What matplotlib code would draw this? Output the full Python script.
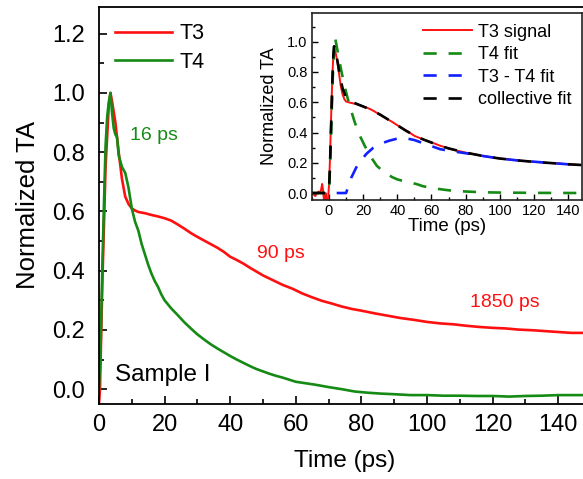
import matplotlib
matplotlib.use("Agg")
import matplotlib.pyplot as plt
from matplotlib.ticker import MultipleLocator, FormatStrFormatter

plt.rcParams['font.family'] = ['Liberation Sans', 'DejaVu Sans']

# ---- main panel: normalized transient absorption, sample I ----
t3_time = [0, 0.3, 1, 2, 3, 3.5, 4, 5, 6, 7, 8, 9, 10, 11, 12, 13, 14, 16, 18,
           20, 22, 24, 26, 28, 30, 32, 34, 36, 38, 40, 42, 44, 46, 48, 50, 53,
           56, 59, 62, 65, 68, 71, 74, 77, 80, 84, 88, 92, 96, 100, 104, 108,
           112, 116, 120, 124, 128, 132, 136, 140, 144, 148]
t3_signal = [-0.05, 0.0, 0.35, 0.75, 0.96, 1.0, 0.97, 0.9, 0.8, 0.71, 0.65,
             0.625, 0.61, 0.603, 0.598, 0.596, 0.594, 0.588, 0.583, 0.577,
             0.569, 0.556, 0.542, 0.527, 0.514, 0.502, 0.49, 0.478, 0.464,
             0.447, 0.436, 0.424, 0.41, 0.397, 0.384, 0.368, 0.352, 0.339,
             0.323, 0.31, 0.298, 0.289, 0.279, 0.271, 0.265, 0.256, 0.248,
             0.24, 0.234, 0.227, 0.222, 0.219, 0.214, 0.21, 0.207, 0.205,
             0.201, 0.199, 0.196, 0.193, 0.19, 0.19]

t4_time = [0, 0.5, 1, 1.5, 2, 2.5, 3, 3.5, 4, 4.5, 5, 5.5, 6, 7, 8, 9, 10, 11,
           12, 13, 14, 15, 16, 17, 18, 19, 20, 22, 24, 26, 28, 30, 32, 34, 36,
           38, 40, 42, 44, 46, 48, 50, 52, 54, 56, 58, 60, 63, 66, 70, 74, 78,
           82, 86, 90, 95, 100, 105, 110, 115, 120, 125, 130, 135, 140, 145, 148]
t4_signal = [0.0, 0.15, 0.4, 0.62, 0.82, 0.92, 0.97, 1.0, 0.93, 0.88, 0.86,
             0.85, 0.79, 0.75, 0.73, 0.68, 0.61, 0.565, 0.535, 0.49, 0.455,
             0.42, 0.39, 0.365, 0.345, 0.32, 0.3, 0.273, 0.25, 0.226, 0.205,
             0.185, 0.168, 0.152, 0.138, 0.125, 0.112, 0.1, 0.089, 0.078,
             0.068, 0.06, 0.052, 0.045, 0.039, 0.032, 0.025, 0.02, 0.015,
             0.007, 0.0, -0.008, -0.012, -0.015, -0.017, -0.02, -0.02, -0.022,
             -0.022, -0.023, -0.023, -0.025, -0.023, -0.022, -0.02, -0.02, -0.02]

# ---- inset: T3 signal and the fit components ----
sig_time = [-10, -9, -8, -7, -6, -5, -4.5, -4, -3.5, -3, -2.5, -2, -1.5, -1,
            -0.5, 0, 0.5, 1, 1.5, 2, 2.5, 3, 3.5, 4, 5, 6, 7, 8, 9, 10, 12, 14,
            16, 18, 20, 22, 25, 28, 31, 34, 37, 40, 43, 46, 50, 55, 60, 65, 70,
            75, 80, 85, 90, 95, 100, 105, 110, 115, 120, 125, 130, 135, 140,
            145, 148]
sig_value = [0.0, -0.01, -0.02, 0.0, 0.01, 0.0, 0.03, 0.06, 0.02, -0.04,
             -0.06, 0.0, -0.06, -0.05, -0.03, 0.05, 0.2, 0.4, 0.6, 0.78, 0.9,
             0.96, 0.94, 0.92, 0.86, 0.78, 0.7, 0.65, 0.62, 0.605, 0.598,
             0.593, 0.588, 0.58, 0.572, 0.565, 0.55, 0.53, 0.51, 0.49, 0.47,
             0.448, 0.428, 0.408, 0.378, 0.355, 0.335, 0.313, 0.295, 0.28,
             0.267, 0.256, 0.245, 0.236, 0.228, 0.222, 0.216, 0.211, 0.206,
             0.202, 0.198, 0.195, 0.19, 0.187, 0.185]

t4fit_time = [-10, 0, 1, 2, 3, 3.5, 5, 7, 9, 12, 15, 18, 21, 25, 28, 32, 37,
              40, 45, 51, 55, 60, 70, 80, 90, 100, 120, 148]
t4fit_value = [0.0, 0.0, 0.3, 0.7, 0.98, 1.03, 0.94, 0.82, 0.71, 0.58, 0.47,
               0.38, 0.31, 0.23, 0.18, 0.14, 0.105, 0.09, 0.075, 0.06, 0.045,
               0.033, 0.018, 0.01, 0.005, 0.003, 0.001, 0.0]

diff_time = [4.5, 10, 13, 16, 19, 22, 26, 30, 35, 40, 45, 50, 55, 60, 65, 70,
             80, 90, 100, 110, 120, 130, 140, 148]
diff_value = [0.0, 0.0, 0.1, 0.17, 0.22, 0.26, 0.3, 0.325, 0.345, 0.36, 0.362,
              0.35, 0.33, 0.31, 0.29, 0.28, 0.263, 0.245, 0.228, 0.216, 0.207,
              0.198, 0.19, 0.185]

fit_time = [-10, -1, 0, 0.5, 1, 1.5, 2, 2.5, 3, 4, 5, 6, 7, 8, 10, 12, 14,
            16, 20, 25, 30, 35, 40, 45, 50, 55, 60, 65, 70, 80, 90, 100, 110,
            120, 130, 140, 148]
fit_value = [0.0, 0.0, 0.02, 0.15, 0.35, 0.55, 0.75, 0.9, 0.97, 0.93, 0.87,
             0.8, 0.74, 0.69, 0.63, 0.61, 0.6, 0.59, 0.572, 0.548, 0.518,
             0.483, 0.448, 0.412, 0.38, 0.355, 0.333, 0.313, 0.295, 0.267,
             0.245, 0.228, 0.216, 0.206, 0.198, 0.19, 0.185]

RED = '#ff1010'
GREEN = '#158a15'
BLUE = '#1020ff'
DASH = (0, (5, 4.5))

fig = plt.figure(figsize=(5.83, 4.79), dpi=100)
ax = fig.add_axes([0.1698, 0.1566, 1.0137 - 0.1698, 0.9854 - 0.1566])
ax.plot(t3_time, t3_signal, color=RED, lw=1.9, label='T3')
ax.plot(t4_time, t4_signal, color=GREEN, lw=1.9, label='T4')
ax.set_xlim(0, 150)
ax.set_ylim(-0.05, 1.29)
ax.xaxis.set_major_locator(MultipleLocator(20))
ax.xaxis.set_minor_locator(MultipleLocator(10))
ax.yaxis.set_major_locator(MultipleLocator(0.2))
ax.yaxis.set_minor_locator(MultipleLocator(0.1))
ax.yaxis.set_major_formatter(FormatStrFormatter('%.1f'))
ax.tick_params(which='both', direction='in', top=False, right=False, width=1.2)
ax.tick_params(which='major', length=6, labelsize=17)
ax.tick_params(axis='y', which='major', pad=10)
ax.tick_params(axis='x', which='major', pad=7)
ax.tick_params(which='minor', length=3.5)
for s in ax.spines.values():
    s.set_linewidth(1.3)
ax.set_xlabel('Time (ps)', fontsize=17.5, labelpad=10)
ax.set_ylabel('Normalized TA', fontsize=18.5, labelpad=9)

ax.legend(loc='upper left', bbox_to_anchor=(0.0, 1.0), frameon=False,
          fontsize=15.5, handlelength=2.65, handletextpad=0.35,
          labelspacing=0.35, borderaxespad=0.35)

ax.text(9.5, 0.855, '16 ps', color=GREEN, fontsize=14, va='center')
ax.text(48.2, 0.458, '90 ps', color=RED, fontsize=14, va='center')
ax.text(113, 0.294, '1850 ps', color=RED, fontsize=14, va='center')
ax.text(4.9, 0.047, 'Sample I', color='black', fontsize=17.5, va='center')

# ---- inset ----
axi = fig.add_axes([0.535, 0.5825, 0.998 - 0.535, 0.9729 - 0.5825])
axi.plot(sig_time, sig_value, color=RED, lw=1.4, label='T3 signal')
axi.plot(t4fit_time, t4fit_value, color=GREEN, lw=1.9, ls=DASH, label='T4 fit')
axi.plot(diff_time, diff_value, color=BLUE, lw=1.9, ls=DASH, label='T3 - T4 fit')
axi.plot(fit_time, fit_value, color='black', lw=1.9, ls=DASH,
         label='collective fit')
axi.set_xlim(-10, 148)
axi.set_ylim(-0.046, 1.19)
axi.xaxis.set_major_locator(MultipleLocator(20))
axi.xaxis.set_minor_locator(MultipleLocator(10))
axi.yaxis.set_major_locator(MultipleLocator(0.2))
axi.yaxis.set_minor_locator(MultipleLocator(0.1))
axi.yaxis.set_major_formatter(FormatStrFormatter('%.1f'))
axi.tick_params(which='both', direction='in', top=False, right=False, width=1.0)
axi.tick_params(which='major', length=4, labelsize=10.5, pad=3)
axi.tick_params(which='minor', length=2.5)
for s in axi.spines.values():
    s.set_linewidth(1.2)
    s.set_color('#222222')
axi.set_xlabel('Time (ps)', fontsize=13.5, labelpad=0)
axi.set_ylabel('Normalized TA', fontsize=13, labelpad=7)
axi.legend(loc='upper right', frameon=False, fontsize=13, handlelength=2.7,
           handletextpad=0.3, labelspacing=0.3, borderaxespad=0.2)

fig.savefig('out.png', dpi=100)
